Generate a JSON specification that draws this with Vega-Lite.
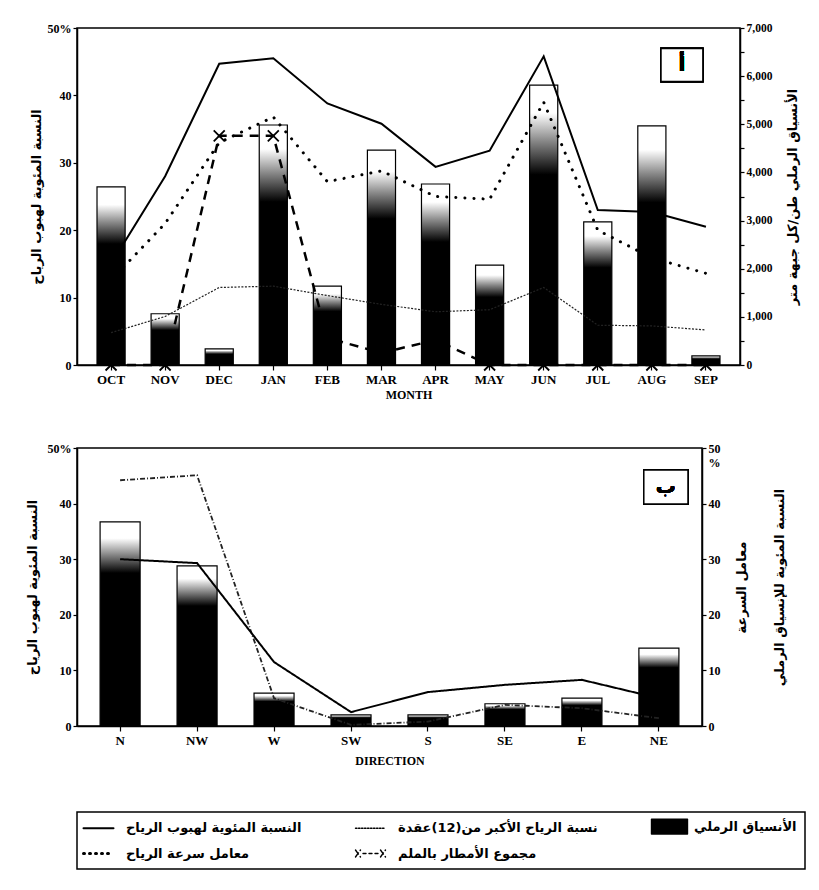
{
  "$schema": "https://vega.github.io/schema/vega-lite/v6.json",
  "padding": {"left": 25, "top": 21, "right": 5, "bottom": 8},
  "spacing": 40,
  "config": {
    "view": {"stroke": "black", "strokeWidth": 1.5},
    "axis": {"labelFont": "Liberation Serif", "labelFontWeight": "bold", "labelFontSize": 12, "labelColor": "black", "domainColor": "black", "domainWidth": 1.5, "tickColor": "black", "tickWidth": 1.2, "grid": false, "titleFont": "DejaVu Sans", "titleFontWeight": "bold", "titleFontSize": 13, "titleColor": "black"},
    "legend": {"orient": "bottom", "columns": 3, "direction": "horizontal", "strokeColor": "black", "strokeWidth": 1.5, "padding": 8, "columnPadding": 50, "rowPadding": 10, "labelFont": "DejaVu Sans", "labelFontSize": 13, "labelFontWeight": "bold", "labelColor": "black", "labelLimit": 400, "labelOffset": 28, "symbolSize": 400, "symbolStrokeWidth": 2, "symbolStrokeColor": "black", "offset": 45}
  },
  "vconcat": [
    {
      "width": 663,
      "height": 337,
      "data": {"values": [
        {"month": "OCT", "wind": 15, "over12": 4.8, "coef": 12.6, "rain": 0, "sand": 3700},
        {"month": "NOV", "wind": 28, "over12": 7.2, "coef": 21, "rain": 0, "sand": 1065},
        {"month": "DEC", "wind": 44.7, "over12": 11.5, "coef": 33, "rain": 34, "sand": 335},
        {"month": "JAN", "wind": 45.5, "over12": 11.7, "coef": 36.8, "rain": 34, "sand": 4985},
        {"month": "FEB", "wind": 38.8, "over12": 10.3, "coef": 27.2, "rain": 4, "sand": 1640},
        {"month": "MAR", "wind": 35.8, "over12": 9.0, "coef": 28.8, "rain": 1.8, "sand": 4465},
        {"month": "APR", "wind": 29.4, "over12": 7.9, "coef": 25, "rain": 3.7, "sand": 3760},
        {"month": "MAY", "wind": 31.8, "over12": 8.2, "coef": 24.6, "rain": 0, "sand": 2075},
        {"month": "JUN", "wind": 45.8, "over12": 11.5, "coef": 39, "rain": 0, "sand": 5815},
        {"month": "JUL", "wind": 23, "over12": 5.9, "coef": 20, "rain": 0, "sand": 2975},
        {"month": "AUG", "wind": 22.7, "over12": 5.8, "coef": 15.9, "rain": 0, "sand": 4965},
        {"month": "SEP", "wind": 20.5, "over12": 5.2, "coef": 13.6, "rain": 0, "sand": 190}
      ]},
      "encoding": {
        "x": {"field": "month", "type": "ordinal", "sort": null,
          "scale": {"paddingInner": 0.48, "paddingOuter": 0.37},
          "axis": {"title": "MONTH", "labelAngle": 0, "labelFontSize": 13, "titleFont": "Liberation Serif", "titleFontSize": 12, "titlePadding": 3, "tickSize": 5, "labelPadding": 3}}
      },
      "layer": [
        {
          "mark": {"type": "bar", "stroke": "black", "strokeWidth": 1.2,
            "fill": {"gradient": "linear", "x1": 0, "y1": 0, "x2": 0, "y2": 1, "stops": [
              {"offset": 0, "color": "white"}, {"offset": 0.1, "color": "white"}, {"offset": 0.2, "color": "#888"}, {"offset": 0.32, "color": "black"}, {"offset": 1, "color": "black"}]}},
          "encoding": {
            "y": {"field": "sand", "type": "quantitative", "scale": {"domain": [0, 7000], "nice": false},
              "axis": {"orient": "right", "title": "الأنسياق الرملي طن/كل جبهة متر", "titleAngle": -90, "titlePadding": 28, "values": [0, 500, 1000, 1500, 2000, 2500, 3000, 3500, 4000, 4500, 5000, 5500, 6000, 6500, 7000], "labelExpr": "datum.value % 1000 ? '' : format(datum.value, ',')", "labelFontSize": 11.5, "tickSize": 4}}
          }
        },
        {
          "layer": [
            {
              "mark": {"type": "line", "stroke": "black", "strokeWidth": 2},
              "encoding": {"y": {"field": "wind", "type": "quantitative", "scale": {"domain": [0, 50], "nice": false},
                "axis": {"orient": "left", "title": "النسبة المئوية لهبوب الرياح", "titlePadding": 4, "values": [0, 5, 10, 15, 20, 25, 30, 35, 40, 45, 50], "labelExpr": "datum.value % 10 ? '' : (datum.value == 50 ? '50%' : datum.label)", "tickSize": 4}}}
            },
            {
              "mark": {"type": "line", "stroke": "#222", "strokeWidth": 1.2, "strokeDash": [2, 1.5]},
              "encoding": {"y": {"field": "over12", "type": "quantitative"}}
            },
            {
              "mark": {"type": "line", "stroke": "black", "strokeWidth": 3, "strokeDash": [0.1, 9], "strokeCap": "round"},
              "encoding": {"y": {"field": "coef", "type": "quantitative"}}
            },
            {
              "mark": {"type": "line", "stroke": "black", "strokeWidth": 2.5, "strokeDash": [9, 7]},
              "encoding": {"y": {"field": "rain", "type": "quantitative"}}
            },
            {
              "mark": {"type": "point", "shape": "M-1,-1L1,1M-1,1L1,-1", "size": 121, "filled": false, "stroke": "black", "strokeWidth": 1.8, "opacity": 1},
              "encoding": {"y": {"field": "rain", "type": "quantitative"}}
            },
            {
              "mark": {"type": "point", "shape": "M-1.27,-1H1.27V1H-1.27Z", "size": 1089, "filled": true, "fill": "white", "stroke": "black", "strokeWidth": 1.5, "opacity": 1, "xOffset": -24},
              "encoding": {"x": {"datum": "SEP"}, "y": {"datum": 44.5}}
            },
            {
              "mark": {"type": "text", "text": "أ", "font": "DejaVu Sans", "fontSize": 20, "fontWeight": "bold", "xOffset": -24},
              "encoding": {"x": {"datum": "SEP"}, "y": {"datum": 44.5}}
            }
          ]
        }
      ],
      "resolve": {"scale": {"y": "independent"}}
    },
    {
      "width": 625,
      "height": 278,
      "data": {"values": [
        {"dir": "N", "wind": 30, "coef": 44.2, "sand": 36.7},
        {"dir": "NW", "wind": 29.3, "coef": 45.1, "sand": 28.8},
        {"dir": "W", "wind": 11.5, "coef": 5, "sand": 5.9},
        {"dir": "SW", "wind": 2.5, "coef": 0.2, "sand": 2.0},
        {"dir": "S", "wind": 6.1, "coef": 0.8, "sand": 2.0},
        {"dir": "SE", "wind": 7.4, "coef": 3.8, "sand": 4.0},
        {"dir": "E", "wind": 8.3, "coef": 3.2, "sand": 5.0},
        {"dir": "NE", "wind": 5.0, "coef": 1.4, "sand": 14.0}
      ]},
      "encoding": {
        "x": {"field": "dir", "type": "ordinal", "sort": null,
          "scale": {"paddingInner": 0.48, "paddingOuter": 0.3},
          "axis": {"title": "DIRECTION", "labelAngle": 0, "labelFontSize": 13, "titleFont": "Liberation Serif", "titleFontSize": 12, "titlePadding": 8, "tickSize": 5, "labelPadding": 3}}
      },
      "layer": [
        {
          "layer": [
            {
              "mark": {"type": "bar", "stroke": "black", "strokeWidth": 1.2,
                "fill": {"gradient": "linear", "x1": 0, "y1": 0, "x2": 0, "y2": 1, "stops": [
                  {"offset": 0, "color": "white"}, {"offset": 0.08, "color": "white"}, {"offset": 0.16, "color": "#888"}, {"offset": 0.25, "color": "black"}, {"offset": 1, "color": "black"}]}},
              "encoding": {
                "y": {"field": "sand", "type": "quantitative", "scale": {"domain": [0, 50], "nice": false},
                  "axis": {"orient": "right", "title": ["معامل السرعة", "النسبة المئوية للإنسياق الرملي"], "titleAngle": -90, "titlePadding": -10, "titleLineHeight": 38, "values": [0, 5, 10, 15, 20, 25, 30, 35, 40, 45, 50], "labelExpr": "datum.value == 50 ? ['50', '%'] : (datum.value % 10 ? '' : datum.label)", "tickSize": 4}}
              }
            },
            {
              "mark": {"type": "line", "stroke": "#222", "strokeWidth": 1.8, "strokeDash": [5, 2, 1, 2]},
              "encoding": {"y": {"field": "coef", "type": "quantitative"}}
            }
          ]
        },
        {
          "layer": [
            {
              "transform": [{"fold": ["wind"], "as": ["series", "val"]}],
              "mark": {"type": "line", "stroke": "black", "strokeWidth": 2},
              "encoding": {
                "y": {"field": "val", "type": "quantitative", "scale": {"domain": [0, 50], "nice": false},
                  "axis": {"orient": "left", "title": "النسبة المئوية لهبوب الرياح", "titlePadding": 8, "values": [0, 5, 10, 15, 20, 25, 30, 35, 40, 45, 50], "labelExpr": "datum.value % 10 ? '' : (datum.value == 50 ? '50%' : datum.label)", "tickSize": 4}},
                "strokeDash": {"field": "series", "type": "nominal",
                  "scale": {"domain": ["wind", "over12", "sand", "coef", "rain"],
                    "range": [[1, 0], [1.5, 1.5], [1, 0], [1, 5], [5, 3]]},
                  "legend": {"title": null,
                    "labelExpr": "datum.value == 'wind' ? 'النسبة المئوية لهبوب الرياح' : datum.value == 'over12' ? 'نسبة الرياح الأكبر من(12)عقدة' : datum.value == 'sand' ? 'الأنسياق الرملي' : datum.value == 'coef' ? 'معامل سرعة الرياح' : 'مجموع الأمطار بالملم'",
                    "encode": {"symbols": {"update": {
                      "shape": {"signal": "datum.value == 'sand' ? 'M-0.8,-0.75H2.8V0.75H-0.8Z' : (datum.value == 'rain' ? 'M-0.8,-0.35L-0.3,0.35M-0.8,0.35L-0.3,-0.35M-0.05,0H0.25M0.55,0H0.85M1.15,0H1.45M1.7,-0.35L2.2,0.35M1.7,0.35L2.2,-0.35' : 'M-0.8,0H2.2')"},
                      "fill": {"signal": "datum.value == 'sand' ? 'black' : 'transparent'"},
                      "stroke": {"value": "black"},
                      "strokeCap": {"value": "round"},
                      "strokeWidth": {"signal": "datum.value == 'wind' ? 2 : (datum.value == 'coef' ? 3 : 1.4)"}
                    }}}}
                }
              }
            },
            {
              "mark": {"type": "point", "shape": "M-1.3,-1H1.3V1H-1.3Z", "size": 1156, "filled": true, "fill": "white", "stroke": "black", "strokeWidth": 1.5, "opacity": 1, "xOffset": 7},
              "encoding": {"x": {"datum": "NE"}, "y": {"datum": 43}}
            },
            {
              "mark": {"type": "text", "text": "ب", "font": "DejaVu Sans", "fontSize": 20, "fontWeight": "bold", "xOffset": 7},
              "encoding": {"x": {"datum": "NE"}, "y": {"datum": 43}}
            }
          ]
        }
      ],
      "resolve": {"scale": {"y": "independent"}}
    }
  ]
}
